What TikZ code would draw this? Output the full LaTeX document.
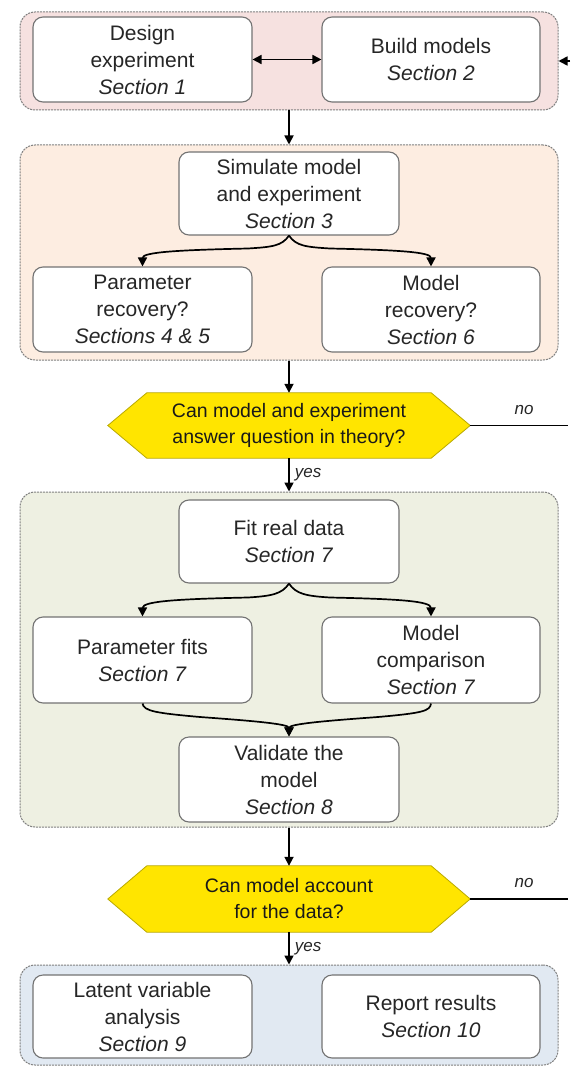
\documentclass[tikz,border=0pt]{standalone}
\usepackage{fontspec}
\setmainfont{Liberation Sans}
\usetikzlibrary{arrows.meta,calc,backgrounds}
\definecolor{gpink}{HTML}{F6E1E0}
\definecolor{gpeach}{HTML}{FDEDE1}
\definecolor{ggreen}{HTML}{EEF0E2}
\definecolor{gblue}{HTML}{E1E9F2}
\definecolor{hexyellow}{HTML}{FFE500}
\definecolor{hexborder}{HTML}{B9A900}
\newcommand{\bxfont}{\fontsize{21}{27}\selectfont}
\newcommand{\hxfont}{\fontsize{19.5}{26}\selectfont}
\newcommand{\lbfont}{\fontsize{17}{20}\selectfont}
\begin{document}
\begin{tikzpicture}[x=1pt,y=-1pt,
  grp/.style={draw=black!50, dash pattern=on 2pt off 1pt, line width=1pt, rounded corners=15pt, inner sep=0pt, minimum width=538pt},
  box/.style={draw=black!55, line width=1.1pt, fill=white, rounded corners=10pt, align=center, inner sep=0pt, font=\bxfont, text=black!85},
  hexlbl/.style={align=center, inner sep=0pt, font=\hxfont, text=black!90, minimum width=284pt},
  hexshape/.style={fill=hexyellow, draw=hexborder, line width=0.8pt},
  arr/.style={-{Triangle[length=9pt,width=9pt]}, line width=1.7pt},
  darr/.style={{Triangle[length=9pt,width=9pt]}-{Triangle[length=9pt,width=9pt]}, line width=1.7pt},
  plain/.style={line width=1.7pt},
  lbl/.style={font=\lbfont\itshape, text=black!85, inner sep=1pt}]

% groups
\node[grp, fill=gpink, minimum height=98pt] (g1) at (289,61) {};
\node[grp, fill=gpeach, minimum height=215pt] (g2) at (289,252.5) {};
\node[grp, fill=ggreen, minimum height=335pt] (g3) at (289,659.5) {};
\node[grp, fill=gblue, minimum height=100pt] (g4) at (289,1015) {};

% group 1
\node[box, minimum width=219pt, minimum height=85pt] (design) at (142.5,59.5) {Design\\experiment\\\textit{Section 1}};
\node[box, minimum width=218pt, minimum height=85pt] (build) at (431,59.5) {Build models\\\textit{Section 2}};

% group 2
\node[box, minimum width=220pt, minimum height=83pt] (sim) at (289,193.5) {Simulate model\\and experiment\\\textit{Section 3}};
\node[box, minimum width=219pt, minimum height=85pt] (prec) at (142.5,309.5) {Parameter\\recovery?\\\textit{Sections 4 \& 5}};
\node[box, minimum width=218pt, minimum height=85pt] (mrec) at (431,309.5) {Model\\recovery?\\\textit{Section 6}};

% question 1
\node[hexlbl, minimum height=65pt] (q1) at (289,425.5) {Can model and experiment\\answer question in theory?};
\coordinate (q1r) at ($(q1.east)+(39,0)$);
\coordinate (q1l) at ($(q1.west)+(-39,0)$);
\coordinate (q1end) at (568,425.5);
\node[lbl] (no1) at (524,410) {no};

% group 3
\node[box, minimum width=220pt, minimum height=83pt] (fit) at (289,541.5) {Fit real data\\\textit{Section 7}};
\node[box, minimum width=219pt, minimum height=86pt] (pfit) at (142.5,660) {Parameter fits\\\textit{Section 7}};
\node[box, minimum width=218pt, minimum height=86pt] (mcomp) at (431,660) {Model\\comparison\\\textit{Section 7}};
\node[box, minimum width=220pt, minimum height=85pt] (val) at (289,779.5) {Validate the\\model\\\textit{Section 8}};

% question 2
\node[hexlbl, minimum height=66pt] (q2) at (289,899) {Can model account\\for the data?};
\coordinate (q2r) at ($(q2.east)+(39,0)$);
\coordinate (q2l) at ($(q2.west)+(-39,0)$);
\coordinate (q2end) at (568,899);
\node[lbl] (no2) at (524,883) {no};

% group 4
\node[box, minimum width=219pt, minimum height=83pt] (latent) at (142.5,1016.5) {Latent variable\\analysis\\\textit{Section 9}};
\node[box, minimum width=218pt, minimum height=83pt] (report) at (431,1016.5) {Report results\\\textit{Section 10}};

% connectors
\coordinate (fb) at (570,61);
\draw[arr] (fb) -- (g1.east);
\draw[darr] (design.east) -- (build.west);
\draw[arr] (g1.south) -- (g2.north);

\draw[arr] (sim.south) .. controls (282,246) and (272,247) .. (248,248.5) .. controls (180,250) and (142.5,252) .. (prec.north);
\draw[arr] (sim.south) .. controls (296,246) and (306,247) .. (330,248.5) .. controls (398,250) and (431,252) .. (mrec.north);

\draw[arr] (g2.south) -- (q1.north);
\draw[plain] (q1r) -- (q1end);
\draw[arr] (q1.south) -- node[lbl, right=4pt] (yes1) {yes} (g3.north);

\draw[arr] (fit.south) .. controls (282,594) and (272,596) .. (248,597.5) .. controls (180,599) and (142.5,601) .. (pfit.north);
\draw[arr] (fit.south) .. controls (296,594) and (306,596) .. (330,597.5) .. controls (398,599) and (431,601) .. (mcomp.north);

\draw[arr] (pfit.south) .. controls (144,711) and (155,713) .. (200,717) .. controls (255,721) and (289,724) .. (val.north);
\draw[arr] (mcomp.south) .. controls (430,711) and (423,713) .. (378,717) .. controls (323,721) and (289,724) .. (val.north);

\draw[arr] (g3.south) -- (q2.north);
\draw[plain] (q2r) -- (q2end);
\draw[arr] (q2.south) -- node[lbl, right=4pt] (yes2) {yes} (g4.north);

\begin{pgfonlayer}{background}
\fill[white] (0,0) rectangle (568,1067);
\draw[hexshape] (q1.north west) -- (q1.north east) -- (q1r) -- (q1.south east) -- (q1.south west) -- (q1l) -- cycle;
\draw[hexshape] (q2.north west) -- (q2.north east) -- (q2r) -- (q2.south east) -- (q2.south west) -- (q2l) -- cycle;
\end{pgfonlayer}
\useasboundingbox (0,0) rectangle (568,1067);
\end{tikzpicture}
\end{document}
